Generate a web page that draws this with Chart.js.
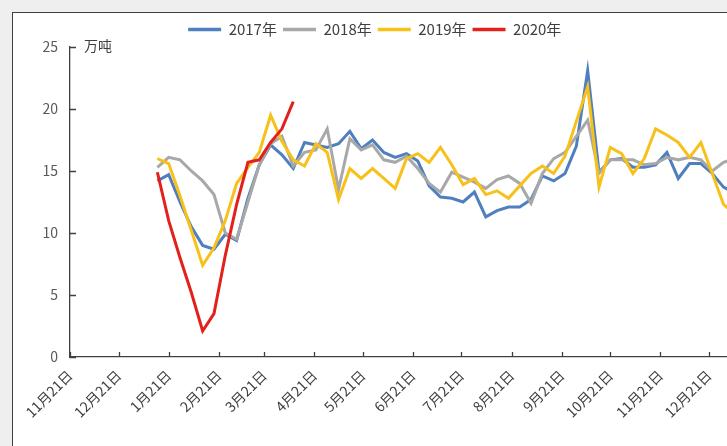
<!DOCTYPE html>
<html lang="zh-CN">
<head>
    <meta charset="UTF-8">
    <title>周度数据 2017-2020年</title>
    <style>
        html, body { margin: 0; padding: 0; background: #efefef; overflow: hidden; width: 727px; height: 446px; }
        #frame { position: absolute; left: 12px; top: 12px; width: 740px; height: 460px; background: #fff; border: 1px solid #404040; }
        #wrap { position: absolute; left: 0; top: 0; width: 731px; height: 433px; }
    </style>
    <script src="https://cdn.jsdelivr.net/npm/chart.js"></script>
</head>
<body>
    <div id="frame">
        <div id="wrap"><canvas id="chart"></canvas></div>
    </div>

    <script>
        // x axis: days counted from 11月21日, one tick per month
        const tickDays = [0, 30, 61, 92, 120, 151, 181, 212, 242, 273, 304, 334, 365, 395];
        const tickLabels = ['11月21日', '12月21日', '1月21日', '2月21日', '3月21日', '4月21日', '5月21日',
                            '6月21日', '7月21日', '8月21日', '9月21日', '10月21日', '11月21日', '12月21日'];
        const yTicks = [0, 5, 10, 15, 20, 25];

        // weekly observations, first one around 1月14日
        const startDay = 54;
        const weekStep = 7;

        const v2017 = [14.2, 14.7, 12.5, 10.5, 9.0, 8.7, 9.9, 9.4, 12.8, 15.5, 17.1, 16.3, 15.2, 17.3, 17.1, 16.9, 17.2, 18.2,
                       16.8, 17.5, 16.5, 16.1, 16.4, 15.8, 13.8, 12.9, 12.8, 12.5, 13.3, 11.3, 11.8, 12.1, 12.1, 12.7, 14.6,
                       14.2, 14.8, 17.0, 23.1, 14.9, 15.9, 16.0, 15.3, 15.3, 15.5, 16.5, 14.4, 15.6, 15.6, 14.8, 13.7, 13.2];
        const v2018 = [15.3, 16.1, 15.9, 15.0, 14.2, 13.1, 10.0, 9.5, 12.5, 15.5, 17.2, 17.8, 15.4, 16.5, 16.7, 18.4, 13.5, 17.6,
                       16.7, 17.1, 15.9, 15.7, 16.2, 15.2, 14.0, 13.3, 14.9, 14.5, 14.1, 13.6, 14.3, 14.6, 14.0, 12.4, 14.8,
                       16.0, 16.5, 17.8, 19.1, 14.8, 15.9, 15.9, 15.9, 15.5, 15.6, 16.1, 15.9, 16.1, 15.9, 15.0, 15.7, 16.0];
        const v2019 = [16.0, 15.6, 13.0, 10.2, 7.4, 8.8, 11.0, 14.0, 15.3, 16.5, 19.5, 17.4, 15.9, 15.4, 17.2, 16.5, 12.7, 15.2,
                       14.4, 15.2, 14.4, 13.6, 16.0, 16.4, 15.7, 16.9, 15.5, 13.9, 14.4, 13.1, 13.4, 12.8, 13.8, 14.8, 15.4,
                       14.8, 16.2, 19.0, 21.8, 13.7, 16.9, 16.4, 14.8, 16.0, 18.4, 17.9, 17.3, 16.1, 17.3, 14.8, 12.3, 11.5];
        const v2020 = [14.9, 11.0, 8.0, 5.2, 2.1, 3.5, 8.2, 12.3, 15.7, 15.9, 17.3, 18.4, 20.6];

        const seriesNames = ['2017年', '2018年', '2019年', '2020年'];
        const seriesColors = ['#4f7fbe', '#a8a8a8', '#f7c11a', '#e3211c'];

        function toPoints(values) {
            return values.map((v, i) => ({ x: startDay + weekStep * i, y: v }));
        }

        const allValues = [v2017, v2018, v2019, v2020];
        const datasets = allValues.map((vals, k) => ({
            label: seriesNames[k],
            data: toPoints(vals),
            borderColor: seriesColors[k],
            backgroundColor: seriesColors[k],
            borderWidth: 3,
            pointRadius: 0,
            tension: 0,
            order: 4 - k
        }));

        // inward tick marks and the unit label
        const axisMarks = {
            id: 'axisMarks',
            afterDraw(chart) {
                const { ctx, chartArea, scales: { x, y } } = chart;
                ctx.save();
                ctx.strokeStyle = '#404040';
                ctx.lineWidth = 1.3;
                ctx.beginPath();
                yTicks.forEach(v => {
                    const py = Math.round(y.getPixelForValue(v)) + 0.5;
                    ctx.moveTo(chartArea.left, py);
                    ctx.lineTo(chartArea.left + 6, py);
                });
                tickDays.forEach(d => {
                    const px = Math.round(x.getPixelForValue(d)) + 0.5;
                    ctx.moveTo(px, chartArea.bottom);
                    ctx.lineTo(px, chartArea.bottom - 5);
                });
                ctx.stroke();
                ctx.fillStyle = '#404040';
                ctx.font = '14px "Noto Sans CJK SC"';
                ctx.textBaseline = 'middle';
                ctx.fillText('万吨', chartArea.left + 14, chartArea.top - 1);
                ctx.restore();
            }
        };

        Chart.defaults.font.family = '"Noto Sans CJK SC", "Noto Sans", sans-serif';

        new Chart(document.getElementById('chart'), {
            type: 'line',
            data: { datasets: datasets },
            options: {
                responsive: true,
                maintainAspectRatio: false,
                animation: false,
                layout: { padding: { top: 3, left: 0, right: 7.5, bottom: 0 } },
                plugins: {
                    tooltip: { enabled: false },
                    legend: {
                        position: 'top',
                        labels: {
                            boxWidth: 33,
                            boxHeight: 3.5,
                            padding: 6,
                            color: '#404040',
                            font: { size: 15 },
                            sort: (a, b) => a.datasetIndex - b.datasetIndex,
                            generateLabels(chart) {
                                const items = Chart.defaults.plugins.legend.labels.generateLabels(chart);
                                items.forEach(it => { it.lineWidth = 0; });
                                return items;
                            }
                        }
                    }
                },
                scales: {
                    x: {
                        type: 'linear',
                        min: 0,
                        max: 412,
                        grid: { display: false, drawTicks: false },
                        border: { display: true, color: '#404040', width: 1.3 },
                        afterBuildTicks: scale => { scale.ticks = tickDays.map(d => ({ value: d })); },
                        afterFit: scale => { scale.height = 89; },
                        ticks: {
                            autoSkip: false,
                            minRotation: 45,
                            maxRotation: 45,
                            padding: 10,
                            color: '#404040',
                            font: { size: 14 },
                            callback: value => tickLabels[tickDays.indexOf(value)]
                        }
                    },
                    y: {
                        min: 0,
                        max: 25,
                        grid: { display: false, drawTicks: false },
                        border: { display: true, color: '#404040', width: 1.3 },
                        afterFit: scale => { scale.width = 57; },
                        ticks: {
                            stepSize: 5,
                            padding: 12,
                            color: '#595959',
                            font: { size: 14 }
                        }
                    }
                }
            },
            plugins: [axisMarks]
        });
    </script>
</body>
</html>
